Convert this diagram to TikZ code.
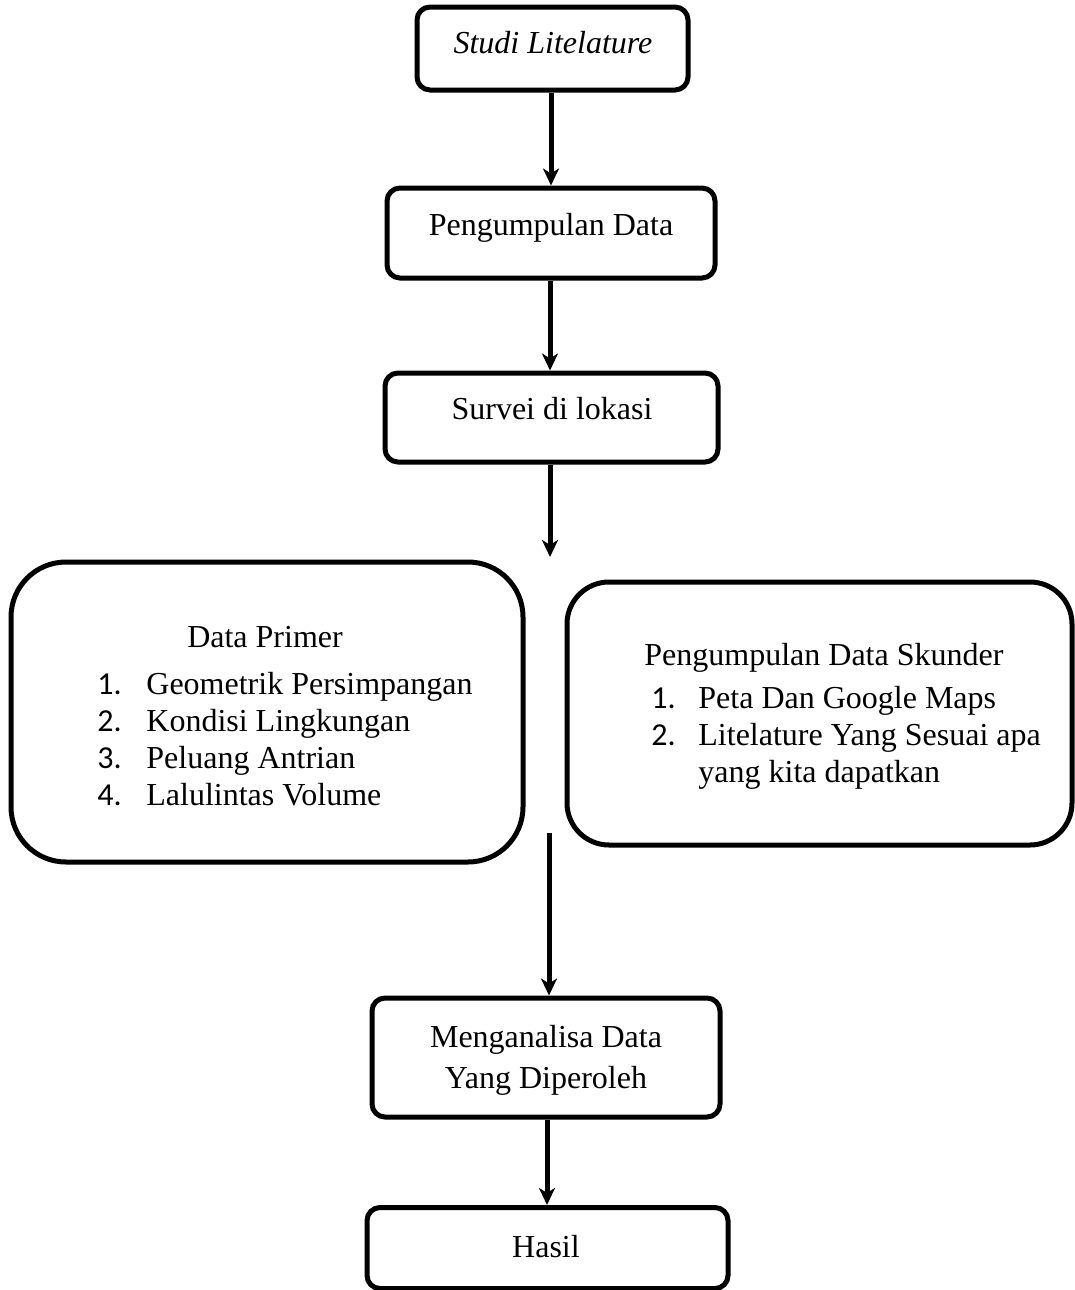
\documentclass[tikz,border=0pt]{standalone}
\usepackage{fontspec}
\setmainfont{Liberation Serif}
\newfontfamily\numfont{Carlito}
\usetikzlibrary{arrows.meta}
\begin{document}
\begin{tikzpicture}[x=0.5pt,y=-0.5pt,
  sbox/.style={draw,line width=2.5pt,rounded corners=6.5pt,inner sep=0pt},
  bigbox/.style={draw,line width=2.5pt,inner sep=0pt},
  txt/.style={anchor=base,inner sep=0pt,font=\fontsize{16}{19}\selectfont},
  ltxt/.style={anchor=base west,inner sep=0pt,font=\fontsize{16}{19}\selectfont},
  num/.style={anchor=base west,inner sep=0pt,font=\fontsize{16}{19}\selectfont\numfont},
  arr/.style={line width=2.5pt,-{Stealth[length=8.5pt,width=8pt,inset=2.5pt]}}]
\useasboundingbox (0,0) rectangle (1075,1290);
% boxes
\node[sbox,minimum width=135.5pt,minimum height=41.5pt] (b1) at (552.5,48.5) {};
\node[sbox,minimum width=164pt,minimum height=45pt] (b2) at (551,233) {};
\node[sbox,minimum width=166.5pt,minimum height=44.5pt] (b3) at (551.5,417.5) {};
\node[bigbox,rounded corners=27.5pt,minimum width=256pt,minimum height=150pt] (bl) at (267,712) {};
\node[bigbox,rounded corners=21pt,minimum width=252.5pt,minimum height=131.5pt] (br) at (819.5,713.5) {};
\node[sbox,minimum width=174pt,minimum height=59.5pt] (b5) at (546,1057.5) {};
\node[sbox,minimum width=180.5pt,minimum height=40.5pt] (b6) at (547.5,1248) {};
% texts
\node[txt] (t1) at (553,53) {\itshape Studi Litelature};
\node[txt] (t2) at (551,235) {Pengumpulan Data};
\node[txt] (t3) at (552,419) {Survei di lokasi};
\node[txt] (tl0) at (265,647) {Data Primer};
\node[num] (nl1) at (97,694) {1.};
\node[ltxt] (tl1) at (146,694) {Geometrik Persimpangan};
\node[num] (nl2) at (97,731) {2.};
\node[ltxt] (tl2) at (146,731) {Kondisi Lingkungan};
\node[num] (nl3) at (97,768) {3.};
\node[ltxt] (tl3) at (146,768) {Peluang Antrian};
\node[num] (nl4) at (97,805) {4.};
\node[ltxt] (tl4) at (146,805) {Lalulintas Volume};
\node[ltxt] (tr0) at (644,665) {Pengumpulan Data Skunder};
\node[num] (nr1) at (651,708) {1.};
\node[ltxt] (tr1) at (698,708) {Peta Dan Google Maps};
\node[num] (nr2) at (651,745) {2.};
\node[ltxt] (tr2) at (698,745) {Litelature Yang Sesuai apa};
\node[ltxt] (tr3) at (698,782) {yang kita dapatkan};
\node[txt] (t5a) at (546,1047) {Menganalisa Data};
\node[txt] (t5b) at (546,1088) {Yang Diperoleh};
\node[txt] (t6) at (546,1257) {Hasil};
% connectors
\coordinate (e3) at (550,557);
\coordinate (s4) at (549,833);
\draw[arr] (b1.south -| 551,0) -- (b2.north -| 551,0);
\draw[arr] (b2.south -| 550,0) -- (b3.north -| 550,0);
\draw[arr] (b3.south -| e3) -- (e3);
\draw[arr] (s4) -- (s4 |- b5.north);
\draw[arr] (b5.south -| 547,0) -- (b6.north -| 547,0);
\end{tikzpicture}
\end{document}
